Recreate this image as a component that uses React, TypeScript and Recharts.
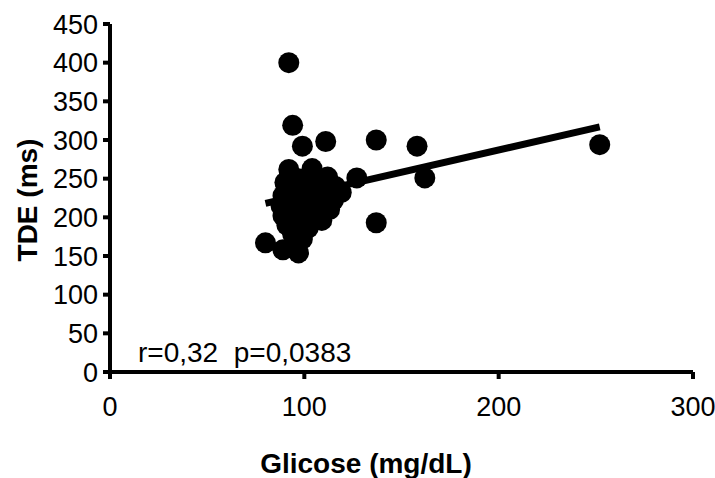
import React from "react";
import { ScatterChart, Scatter, XAxis, YAxis, Customized } from "recharts";

const glucose = [
  92, 94, 99, 111, 137, 127, 137, 158, 162, 252,
  92, 104, 112, 97, 106, 90, 94, 101, 109, 116, 119,
  89, 96, 103, 110, 115, 88, 95, 100, 107, 113,
  89, 94, 99, 104, 109, 91, 97, 102, 98, 105, 94, 99,
  80, 89, 97, 95,
];
const tde = [
  400, 319, 292, 298, 300, 251, 193, 292, 251, 294,
  262, 263, 252, 250, 248, 245, 238, 240, 236, 240, 232,
  228, 226, 228, 224, 222, 215, 212, 216, 212, 210,
  202, 200, 204, 198, 196, 190, 188, 186, 194, 199, 178, 172,
  167, 158, 154, 165,
];
const fitX = [80, 252];
const fitY = [218, 317];
const xTicks = [0, 100, 200, 300];
const yTicks = [0, 50, 100, 150, 200, 250, 300, 350, 400, 450];
const annotation = "r=0,32  p=0,0383";

const points = glucose.map((g, i) => ({ x: g, y: tde[i] }));
const fitLine = fitX.map((g, i) => ({ x: g, y: fitY[i] }));

const FONT = "'Liberation Sans', Arial, Helvetica, sans-serif";

const Dot = (props: any) => {
  const { cx, cy } = props;
  if (cx == null || cy == null) return <g />;
  return <circle cx={cx} cy={cy} r={10.5} fill="#000" />;
};

const Empty = () => <g />;

export default function App() {
  return (
    <div style={{ position: "absolute", left: 0, top: 0, width: 715, height: 478, background: "#fff" }}>
      <ScatterChart width={715} height={478} margin={{ top: 24, right: 22, left: 0, bottom: 0 }}>
        <XAxis
          type="number"
          dataKey="x"
          domain={[0, 300]}
          ticks={xTicks}
          height={106}
          axisLine={{ stroke: "#000", strokeWidth: 4 }}
          tickLine={{ stroke: "#000", strokeWidth: 4 }}
          tickSize={7}
          tickMargin={18}
          tick={{ fill: "#000", fontSize: 27, fontFamily: FONT }}
          label={{
            content: () => (
              <text x={366} y={473} textAnchor="middle" fontSize={28} fontWeight="bold" fontFamily={FONT} fill="#000">
                Glicose (mg/dL)
              </text>
            ),
          }}
        />
        <YAxis
          type="number"
          dataKey="y"
          domain={[0, 450]}
          ticks={yTicks}
          width={110}
          axisLine={{ stroke: "#000", strokeWidth: 4 }}
          tickLine={{ stroke: "#000", strokeWidth: 4 }}
          tickSize={7}
          tickMargin={5}
          tick={{ fill: "#000", fontSize: 27, fontFamily: FONT }}
          label={{
            content: () => {
              const cy = 200;
              const x = 37;
              return (
                <text
                  x={x}
                  y={cy}
                  transform={`rotate(-90 ${x} ${cy})`}
                  textAnchor="middle"
                  fontSize={28}
                  fontWeight="bold"
                  fontFamily={FONT}
                  fill="#000"
                >
                  TDE (ms)
                </text>
              );
            },
          }}
        />
        <Scatter data={points} shape={Dot} isAnimationActive={false} />
        <Scatter
          data={fitLine}
          line={{ stroke: "#000", strokeWidth: 7 }}
          shape={Empty}
          isAnimationActive={false}
        />
        <Customized
          component={() => (
            <text x={138} y={362} fontSize={28} fontFamily={FONT} fill="#000" style={{ whiteSpace: "pre" }}>
              {annotation}
            </text>
          )}
        />
      </ScatterChart>
    </div>
  );
}
